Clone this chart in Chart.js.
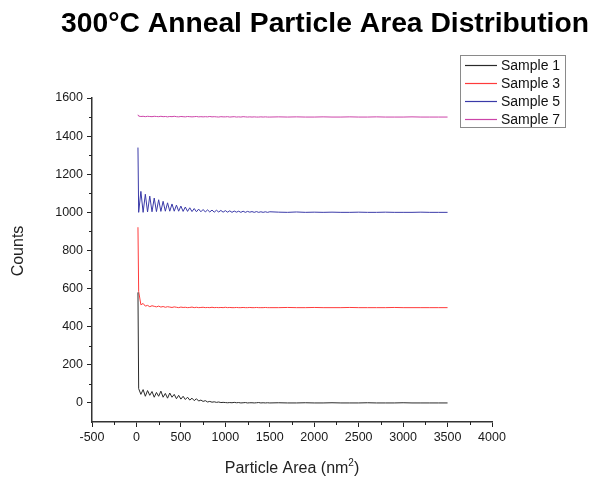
<!DOCTYPE html>
<html><head><meta charset="utf-8">
<script src="https://cdn.jsdelivr.net/npm/chart.js@4"></script>
<style>html,body{margin:0;padding:0;background:#fff}#wrap{width:595px;height:478px}</style>
</head><body><div id="wrap"><canvas id="c" width="595" height="478"></canvas></div>
<script>
const titleText = "300°C Anneal Particle Area Distribution";
const seriesNames = ["Sample 1", "Sample 3", "Sample 5", "Sample 7"];
const seriesColors = ["#2a2a2a", "#ff3b3b", "#3a3aa8", "#cc44a8"];
const xTicks = [-500, 0, 500, 1000, 1500, 2000, 2500, 3000, 3500, 4000];
const yTicks = [0, 200, 400, 600, 800, 1000, 1200, 1400, 1600];
const xs = [17, 25, 50, 75, 100, 125, 150, 175, 200, 225,
  250, 275, 300, 325, 350, 375, 400, 425, 450, 475,
  500, 525, 550, 575, 600, 625, 650, 675, 700, 725,
  750, 775, 800, 825, 850, 875, 900, 925, 950, 975,
  1000, 1025, 1050, 1075, 1100, 1125, 1150, 1175, 1200, 1225,
  1250, 1275, 1300, 1325, 1350, 1375, 1400, 1425, 1450, 1475,
  1500, 1600, 1700, 1800, 1900, 2000, 2100, 2200, 2300, 2400,
  2500, 2600, 2700, 2800, 2900, 3000, 3100, 3200, 3300, 3400,
  3500];
const sample1 = [580, 75, 45, 70, 35, 65, 40, 60, 30, 55,
  35, 62, 30, 50, 25, 52, 30, 45, 22, 40,
  20, 35, 18, 30, 15, 25, 12, 22, 10, 15,
  8, 12, 5, 8, 4, 6, 3, 5, 2, 3,
  2, 1, 2, 1, 3, 1, 2, 0, 1, 2,
  0, 1, 1, 0, 1, 2, 0, 1, 0, 1,
  0, 1, 0, 0, 1, 0, 0, 1, 0, 0,
  0, 1, 0, 0, 0, 1, 0, 0, 0, 0,
  0];
const sample3 = [922, 585, 515, 522, 508, 512, 505, 510, 507, 504,
  508, 503, 506, 502, 505, 503, 501, 504, 502, 500,
  503, 501, 502, 500, 501, 503, 500, 502, 500, 501,
  502, 500, 501, 500, 502, 500, 501, 500, 501, 500,
  502, 500, 501, 500, 500, 501, 500, 500, 501, 500,
  500, 501, 500, 500, 501, 500, 500, 500, 501, 500,
  500, 500, 501, 500, 500, 501, 500, 500, 500, 501,
  500, 500, 500, 500, 501, 500, 500, 500, 500, 500,
  500];
const sample5 = [1340, 1000, 1110, 1000, 1095, 1002, 1085, 1003, 1075, 1004,
  1066, 1005, 1058, 1006, 1050, 1006, 1044, 1006, 1038, 1006,
  1033, 1005, 1028, 1005, 1024, 1004, 1020, 1003, 1017, 1003,
  1015, 1002, 1013, 1002, 1012, 1001, 1011, 1002, 1010, 1001,
  1009, 1001, 1008, 1000, 1007, 1001, 1006, 1000, 1006, 1000,
  1005, 1001, 1004, 1000, 1004, 1000, 1003, 1000, 1003, 1000,
  1003, 1001, 1000, 1002, 1000, 1001, 1000, 1001, 1000, 1000,
  1001, 1000, 1000, 1001, 1000, 1000, 1000, 1001, 1000, 1000,
  1000];
const sample7 = [1512, 1505, 1503, 1504, 1502, 1504, 1503, 1502, 1504, 1503,
  1502, 1504, 1502, 1503, 1501, 1503, 1502, 1504, 1502, 1501,
  1503, 1502, 1501, 1503, 1502, 1501, 1502, 1503, 1501, 1502,
  1501, 1502, 1501, 1503, 1501, 1502, 1501, 1500, 1502, 1501,
  1501, 1502, 1500, 1501, 1502, 1500, 1501, 1500, 1502, 1501,
  1500, 1501, 1500, 1501, 1500, 1500, 1501, 1500, 1501, 1500,
  1500, 1501, 1500, 1501, 1500, 1500, 1501, 1500, 1500, 1501,
  1500, 1500, 1501, 1500, 1500, 1500, 1501, 1500, 1500, 1500,
  1500];

const allSeries = [sample1, sample3, sample5, sample7];
const FONT = '"Liberation Sans", Arial, sans-serif';

const decor = {
  id: 'decor',
  afterDraw(chart) {
    const ctx = chart.ctx;
    const xs_ = chart.scales.x, ys_ = chart.scales.y;
    ctx.save();
    // minor ticks
    ctx.strokeStyle = '#222'; ctx.lineWidth = 1;
    const bottom = chart.chartArea.bottom, left = chart.chartArea.left;
    for (let i = 0; i < xTicks.length - 1; i++) {
      const v = (xTicks[i] + xTicks[i + 1]) / 2;
      const px = Math.round(xs_.getPixelForValue(v)) + 0.5;
      ctx.beginPath(); ctx.moveTo(px, bottom); ctx.lineTo(px, bottom + 3); ctx.stroke();
    }
    for (let i = 0; i < yTicks.length - 1; i++) {
      const v = (yTicks[i] + yTicks[i + 1]) / 2;
      const py = Math.round(ys_.getPixelForValue(v)) + 0.5;
      ctx.beginPath(); ctx.moveTo(left, py); ctx.lineTo(left - 3, py); ctx.stroke();
    }
    // title
    let size = 24;
    ctx.font = 'bold ' + size + 'px ' + FONT;
    const w = ctx.measureText(titleText).width;
    size = size * 528 / w;
    ctx.font = 'bold ' + size.toFixed(2) + 'px ' + FONT;
    ctx.fillStyle = '#000'; ctx.textAlign = 'center'; ctx.textBaseline = 'alphabetic';
    ctx.fillText(titleText, 325, 32);
    // y title
    ctx.font = '16px ' + FONT; ctx.fillStyle = '#222';
    ctx.save(); ctx.translate(19, 251); ctx.rotate(-Math.PI / 2);
    ctx.textAlign = 'center'; ctx.textBaseline = 'middle';
    ctx.fillText('Counts', 0, 0); ctx.restore();
    // x title with superscript
    const p1 = 'Particle Area (nm', p2 = '2', p3 = ')';
    ctx.font = '16px ' + FONT; const w1 = ctx.measureText(p1).width, w3 = ctx.measureText(p3).width;
    ctx.font = '10px ' + FONT; const w2 = ctx.measureText(p2).width;
    let sx = 292 - (w1 + w2 + w3) / 2;
    ctx.textAlign = 'left'; ctx.textBaseline = 'alphabetic';
    ctx.font = '16px ' + FONT; ctx.fillText(p1, sx, 473);
    ctx.font = '10px ' + FONT; ctx.fillText(p2, sx + w1, 466);
    ctx.font = '16px ' + FONT; ctx.fillText(p3, sx + w1 + w2, 473);
    // legend
    ctx.strokeStyle = '#8a8a8a'; ctx.lineWidth = 1;
    ctx.strokeRect(460.5, 55.5, 105, 72);
    const rows = [65, 83, 101, 119];
    ctx.font = '14px ' + FONT; ctx.textBaseline = 'middle'; ctx.textAlign = 'left';
    seriesNames.forEach((n, i) => {
      ctx.strokeStyle = seriesColors[i]; ctx.lineWidth = 1.2;
      ctx.beginPath(); ctx.moveTo(465, rows[i] + 0.5); ctx.lineTo(497, rows[i] + 0.5); ctx.stroke();
      ctx.fillStyle = '#111'; ctx.fillText(n, 501, rows[i] + 1);
    });
    ctx.restore();
  }
};

new Chart(document.getElementById('c'), {
  type: 'line',
  data: {
    datasets: allSeries.map((s, k) => ({
      label: seriesNames[k],
      data: xs.map((x, i) => ({ x: x, y: s[i] })),
      borderColor: seriesColors[k],
      borderWidth: 1,
      pointRadius: 0,
      tension: 0,
      fill: false
    }))
  },
  options: {
    responsive: false,
    animation: false,
    layout: { padding: { left: 0, right: 103, top: 98, bottom: 0 } },
    plugins: { legend: { display: false }, title: { display: false }, tooltip: { enabled: false } },
    scales: {
      x: {
        type: 'linear', min: -500, max: 4000,
        afterBuildTicks: (s) => { s.ticks = xTicks.map(v => ({ value: v })); },
        afterFit: (s) => { s.height = 56; },
        grid: { drawOnChartArea: false, drawTicks: true, tickLength: 5, color: '#222', lineWidth: 1 },
        border: { display: true, color: '#333', width: 1.5 },
        ticks: { font: { family: FONT, size: 12.5 }, color: '#1a1a1a', padding: 3, maxRotation: 0, autoSkip: false,
          callback: (v) => String(v) }
      },
      y: {
        type: 'linear', min: -100, max: 1600,
        afterBuildTicks: (s) => { s.ticks = yTicks.map(v => ({ value: v })); },
        afterFit: (s) => { s.width = 92; },
        grid: { drawOnChartArea: false, drawTicks: true, tickLength: 5, color: '#222', lineWidth: 1 },
        border: { display: true, color: '#333', width: 1.5 },
        ticks: { font: { family: FONT, size: 12.5 }, color: '#1a1a1a', padding: 4, autoSkip: false,
          callback: (v) => String(v) }
      }
    }
  },
  plugins: [decor]
});
</script>
</body></html>
